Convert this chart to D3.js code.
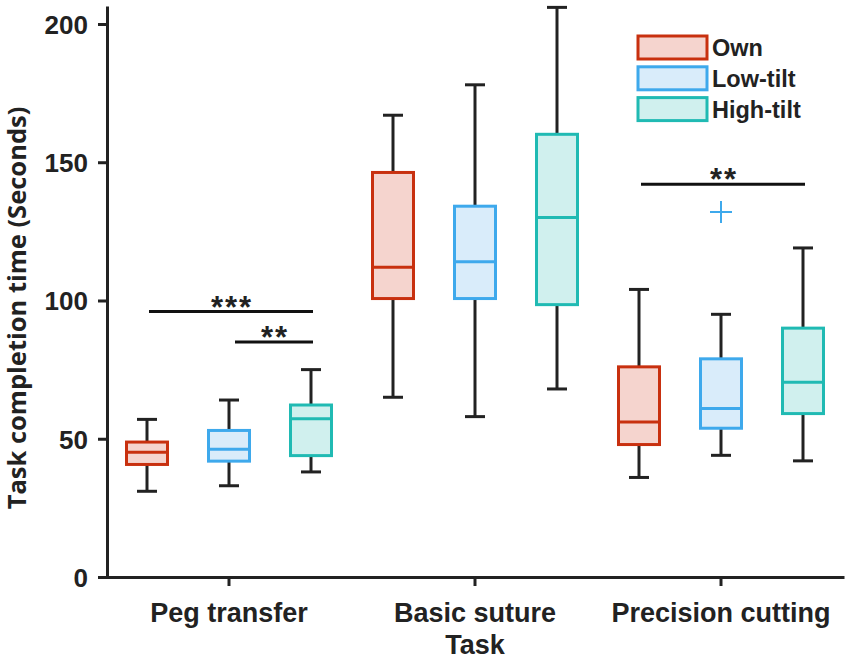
<!DOCTYPE html>
<html>
<head>
<meta charset="utf-8">
<script src="https://cdn.jsdelivr.net/npm/d3@7"></script>
<style>
  body { margin: 0; background: #fff; }
  text { font-family: "Liberation Sans", Arial, sans-serif; font-weight: bold; fill: #222; }
</style>
</head>
<body>
<svg id="chart" width="851" height="662"></svg>
<script>
// ---------- data ----------
const tasks = ["Peg transfer", "Basic suture", "Precision cutting"];
const conditions = ["Own", "Low-tilt", "High-tilt"];
const strokeColors = ["#c8300f", "#3ea9ec", "#20bab3"];
const fillColors = ["#f5d4ce", "#d9ecfa", "#d0f0ee"];

// [whiskerLow, Q1, median, Q3, whiskerHigh] per condition, per task
const pegStats = [
  [31, 40.7, 45.1, 48.8, 57],
  [33, 41.9, 46.2, 53, 64],
  [38, 43.9, 57.2, 62.2, 75]
];
const sutureStats = [
  [65, 100.7, 112, 146.3, 167],
  [58, 100.7, 114, 134.1, 178],
  [68, 98.5, 130, 160.1, 206]
];
const cuttingStats = [
  [36, 47.9, 56.1, 76, 104],
  [44, 53.8, 60.9, 78.9, 95],
  [42, 59.1, 70.4, 90, 119]
];
const allStats = [pegStats, sutureStats, cuttingStats];

// outliers: [task, condition, value]
const outliers = [["Precision cutting", "Low-tilt", 132]];

// significance bars: [task, fromCondition, toCondition, value, label]
const sigBars = [
  ["Peg transfer", "Own", "High-tilt", 96, "***"],
  ["Peg transfer", "Low-tilt", "High-tilt", 85, "**"],
  ["Precision cutting", "Own", "High-tilt", 142, "**"]
];

const yTicks = [0, 50, 100, 150, 200];

// ---------- scales ----------
const svg = d3.select("#chart");
const y = d3.scaleLinear().domain([0, 206.5]).range([577, 6]);
const x = d3.scaleBand().domain(tasks).range([106, 844]);
const xSub = d3.scaleBand().domain(conditions).range([-123, 123]);
const boxW = xSub.bandwidth() * 0.5;
const capW = 20;

function cx(task, cond) {
  return x(task) + x.bandwidth() / 2 + xSub(cond) + xSub.bandwidth() / 2;
}

// ---------- axes ----------
const yAxis = svg.append("g")
  .attr("transform", "translate(107,0)")
  .call(d3.axisLeft(y).tickValues(yTicks).tickSize(9).tickPadding(10).tickSizeOuter(0));
yAxis.select(".domain").attr("stroke", "#222").attr("stroke-width", 3);
yAxis.selectAll(".tick line").attr("stroke", "#222").attr("stroke-width", 3);
yAxis.selectAll(".tick text").style("font-size", "26px").attr("fill", "#222").attr("dy", "0.36em");

const xAxis = svg.append("g")
  .attr("transform", "translate(0,577)")
  .call(d3.axisBottom(x).tickSize(9).tickSizeOuter(0).tickFormat(""));
xAxis.select(".domain").attr("stroke", "#222").attr("stroke-width", 3);
xAxis.selectAll(".tick line").attr("stroke", "#222").attr("stroke-width", 3);

svg.append("g").selectAll("text")
  .data(tasks)
  .join("text")
  .attr("x", d => x(d) + x.bandwidth() / 2)
  .attr("y", 622)
  .attr("text-anchor", "middle")
  .style("font-size", "27px")
  .text(d => d);

svg.append("text")
  .attr("x", x("Basic suture") + x.bandwidth() / 2)
  .attr("y", 654)
  .attr("text-anchor", "middle")
  .style("font-size", "27px")
  .text("Task");

svg.append("text")
  .attr("transform", "translate(26,308) rotate(-90)")
  .attr("text-anchor", "middle")
  .style("font-family", "'Open Sans', sans-serif")
  .style("font-size", "25.5px")
  .text("Task completion time (Seconds)");

// ---------- boxes ----------
tasks.forEach((task, ti) => {
  conditions.forEach((cond, ci) => {
    const s = allStats[ti][ci];
    const c = cx(task, cond);
    const g = svg.append("g");
    // whiskers
    g.append("line").attr("x1", c).attr("x2", c).attr("y1", y(s[4])).attr("y2", y(s[3]))
      .attr("stroke", "#222").attr("stroke-width", 3);
    g.append("line").attr("x1", c).attr("x2", c).attr("y1", y(s[1])).attr("y2", y(s[0]))
      .attr("stroke", "#222").attr("stroke-width", 3);
    g.append("line").attr("x1", c - capW / 2).attr("x2", c + capW / 2).attr("y1", y(s[4])).attr("y2", y(s[4]))
      .attr("stroke", "#222").attr("stroke-width", 3);
    g.append("line").attr("x1", c - capW / 2).attr("x2", c + capW / 2).attr("y1", y(s[0])).attr("y2", y(s[0]))
      .attr("stroke", "#222").attr("stroke-width", 3);
    // box
    g.append("rect")
      .attr("x", c - boxW / 2).attr("width", boxW)
      .attr("y", y(s[3])).attr("height", y(s[1]) - y(s[3]))
      .attr("fill", fillColors[ci]).attr("stroke", strokeColors[ci]).attr("stroke-width", 3);
    // median
    g.append("line").attr("x1", c - boxW / 2).attr("x2", c + boxW / 2).attr("y1", y(s[2])).attr("y2", y(s[2]))
      .attr("stroke", strokeColors[ci]).attr("stroke-width", 3);
  });
});

// outliers
outliers.forEach(([task, cond, v]) => {
  const c = cx(task, cond);
  const col = strokeColors[conditions.indexOf(cond)];
  svg.append("line").attr("x1", c - 11).attr("x2", c + 11).attr("y1", y(v)).attr("y2", y(v))
    .attr("stroke", col).attr("stroke-width", 2);
  svg.append("line").attr("x1", c).attr("x2", c).attr("y1", y(v) - 11).attr("y2", y(v) + 11)
    .attr("stroke", col).attr("stroke-width", 2);
});

// significance bars
sigBars.forEach(([task, a, b, v, label]) => {
  const x1 = cx(task, a) + (a === "Low-tilt" ? 6 : 2);
  const x2 = cx(task, b) + 2;
  svg.append("line").attr("x1", x1).attr("x2", x2).attr("y1", y(v)).attr("y2", y(v))
    .attr("stroke", "#111").attr("stroke-width", 3);
  svg.append("text")
    .attr("x", (x1 + x2) / 2 + 1).attr("y", y(v) + 6)
    .attr("text-anchor", "middle")
    .style("font-size", "31px")
    .style("letter-spacing", "2px")
    .text(label);
});

// ---------- legend ----------
const legend = svg.append("g").attr("transform", "translate(638,36)");
conditions.forEach((cond, i) => {
  legend.append("rect")
    .attr("x", 0).attr("y", i * 30.8).attr("width", 69).attr("height", 23)
    .attr("fill", fillColors[i]).attr("stroke", strokeColors[i]).attr("stroke-width", 3);
  legend.append("text")
    .attr("x", 74).attr("y", i * 30.8 + 20)
    .style("font-size", "23.5px")
    .text(cond);
});
</script>
</body>
</html>
